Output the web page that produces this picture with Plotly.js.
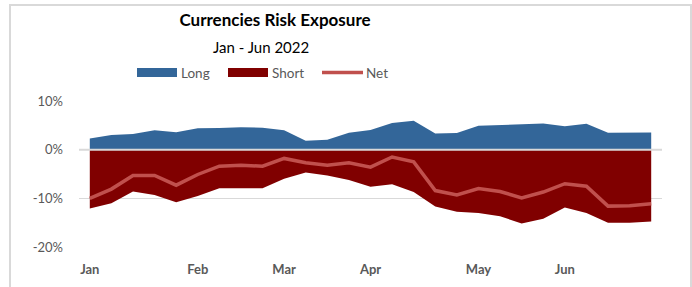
<!DOCTYPE html>
<html>
<head>
<meta charset="utf-8">
<script src="https://cdn.plot.ly/plotly-3.0.1.min.js"></script>
<style>
  html, body { margin: 0; padding: 0; background: #ffffff; }
  #chart { width: 692px; height: 287px; }
</style>
</head>
<body>
<div id="chart"></div>
<script>
// Weekly observation dates (category axis)
const weeks = [
  '2022-01-01','2022-01-08','2022-01-15','2022-01-22','2022-01-29',
  '2022-02-05','2022-02-12','2022-02-19','2022-02-26',
  '2022-03-05','2022-03-12','2022-03-19','2022-03-26',
  '2022-04-02','2022-04-09','2022-04-16','2022-04-23','2022-04-30',
  '2022-05-07','2022-05-14','2022-05-21','2022-05-28',
  '2022-06-04','2022-06-11','2022-06-18','2022-06-25','2022-07-02'
];
// Exposure in % of portfolio
const longExp  = [2.3, 3.0, 3.2, 4.0, 3.6, 4.4, 4.45, 4.6, 4.5, 4.0, 1.85, 2.05, 3.5, 4.05,
                  5.5, 5.95, 3.3, 3.4, 4.9, 5.05, 5.2, 5.4, 4.8, 5.3, 3.5, 3.55, 3.55];
const shortExp = [-12.1, -11.0, -8.6, -9.3, -10.8, -9.5, -7.95, -7.95, -7.95, -6.0, -4.7, -5.3, -6.25, -7.6,
                  -7.1, -8.7, -11.7, -12.75, -13.0, -13.7, -15.15, -14.2, -11.9, -13.0, -15.0, -15.0, -14.75];
const netExp   = [-10.0, -8.1, -5.3, -5.3, -7.3, -5.1, -3.4, -3.2, -3.4, -1.8, -2.7, -3.2, -2.7, -3.6,
                  -1.5, -2.5, -8.4, -9.3, -8.0, -8.6, -9.9, -8.7, -7.0, -7.5, -11.6, -11.5, -11.1];
// Axis labels
const monthTickVals = ['2022-01-01','2022-02-05','2022-03-05','2022-04-02','2022-05-07','2022-06-04'];
const monthTickText = ['Jan','Feb','Mar','Apr','May','Jun'];
const yTickVals = [-20, -10, 0, 10];
const yTickText = ['-20%', '-10%', '0%', '10%'];
const seriesNames = ['Long', 'Short', 'Net'];

const FONT = 'Lato, "Open Sans", sans-serif';
const C_LONG = '#336699', C_SHORT = '#800000', C_NET = '#C0504D';

const traces = [
  { x: weeks, y: longExp, name: seriesNames[0], type: 'scatter', mode: 'lines',
    fill: 'tozeroy', fillcolor: C_LONG, line: { width: 0, color: C_LONG }, showlegend: false },
  { x: weeks, y: shortExp, name: seriesNames[1], type: 'scatter', mode: 'lines',
    fill: 'tozeroy', fillcolor: C_SHORT, line: { width: 0, color: C_SHORT }, showlegend: false },
  { x: weeks, y: netExp, name: seriesNames[2], type: 'scatter', mode: 'lines',
    line: { width: 3.5, color: C_NET }, showlegend: false }
];

// pixel helpers for the layout decorations
const L = 79, R = 30, T = 101, B = 40, W = 692, H = 287;
const pw = W - L - R, ph = H - T - B;
const px = p => (p - L) / pw;
const py = p => (H - B - p) / ph;

const layout = {
  width: W, height: H,
  margin: { l: L, r: R, t: T, b: B, pad: 0 },
  paper_bgcolor: '#ffffff', plot_bgcolor: '#ffffff',
  font: { family: FONT, color: '#595959' },
  showlegend: false,
  title: { text: '<b>Currencies Risk Exposure</b>', font: { family: FONT, size: 17, color: '#000000' },
           x: 275 / W, xref: 'container', xanchor: 'center', y: 1 - 20 / H, yref: 'container', yanchor: 'middle' },
  xaxis: {
    type: 'category', range: [-0.5, weeks.length - 0.5],
    tickmode: 'array', tickvals: monthTickVals, ticktext: monthTickText,
    tickfont: { family: FONT, size: 13, color: '#595959', weight: 'bold' },
    showgrid: false, zeroline: false, showline: false, ticks: '', ticklabelstandoff: 13
  },
  yaxis: {
    range: [-20, 10], tickmode: 'array', tickvals: yTickVals, ticktext: yTickText,
    tickfont: { family: FONT, size: 13, color: '#595959' },
    showgrid: true, gridcolor: '#d9d9d9', gridwidth: 1.5,
    zeroline: false, showline: false, ticks: '', ticklabelstandoff: 15
  },
  shapes: [
    // zero line over the areas
    { type: 'line', xref: 'paper', yref: 'y', x0: 0, x1: 1, y0: 0, y1: 0,
      line: { color: '#d9d9d9', width: 2 }, layer: 'above' },
    // chart border
    { type: 'rect', xref: 'paper', yref: 'paper', x0: px(10), x1: px(691), y0: py(5), y1: py(295),
      line: { color: '#d9d9d9', width: 2 }, fillcolor: 'rgba(0,0,0,0)', layer: 'below' },
    // legend symbols
    { type: 'rect', xref: 'paper', yref: 'paper', x0: px(137), x1: px(177), y0: py(77), y1: py(68),
      line: { width: 0 }, fillcolor: C_LONG },
    { type: 'rect', xref: 'paper', yref: 'paper', x0: px(228), x1: px(268), y0: py(77), y1: py(68),
      line: { width: 0 }, fillcolor: C_SHORT },
    { type: 'line', xref: 'paper', yref: 'paper', x0: px(322), x1: px(363), y0: py(72.5), y1: py(72.5),
      line: { color: C_NET, width: 3.5 } }
  ],
  annotations: [
    { text: 'Jan - Jun 2022', xref: 'paper', yref: 'paper', x: px(261), y: py(47),
      xanchor: 'center', yanchor: 'middle', showarrow: false,
      font: { family: FONT, size: 15, color: '#000000' } },
    { text: seriesNames[0], xref: 'paper', yref: 'paper', x: px(179), y: py(72.5),
      xanchor: 'left', yanchor: 'middle', showarrow: false, font: { family: FONT, size: 13.5, color: '#595959' } },
    { text: seriesNames[1], xref: 'paper', yref: 'paper', x: px(270), y: py(72.5),
      xanchor: 'left', yanchor: 'middle', showarrow: false, font: { family: FONT, size: 13.5, color: '#595959' } },
    { text: seriesNames[2], xref: 'paper', yref: 'paper', x: px(364), y: py(72.5),
      xanchor: 'left', yanchor: 'middle', showarrow: false, font: { family: FONT, size: 13.5, color: '#595959' } }
  ]
};

Plotly.newPlot('chart', traces, layout, { displayModeBar: false, staticPlot: true });
</script>
</body>
</html>
